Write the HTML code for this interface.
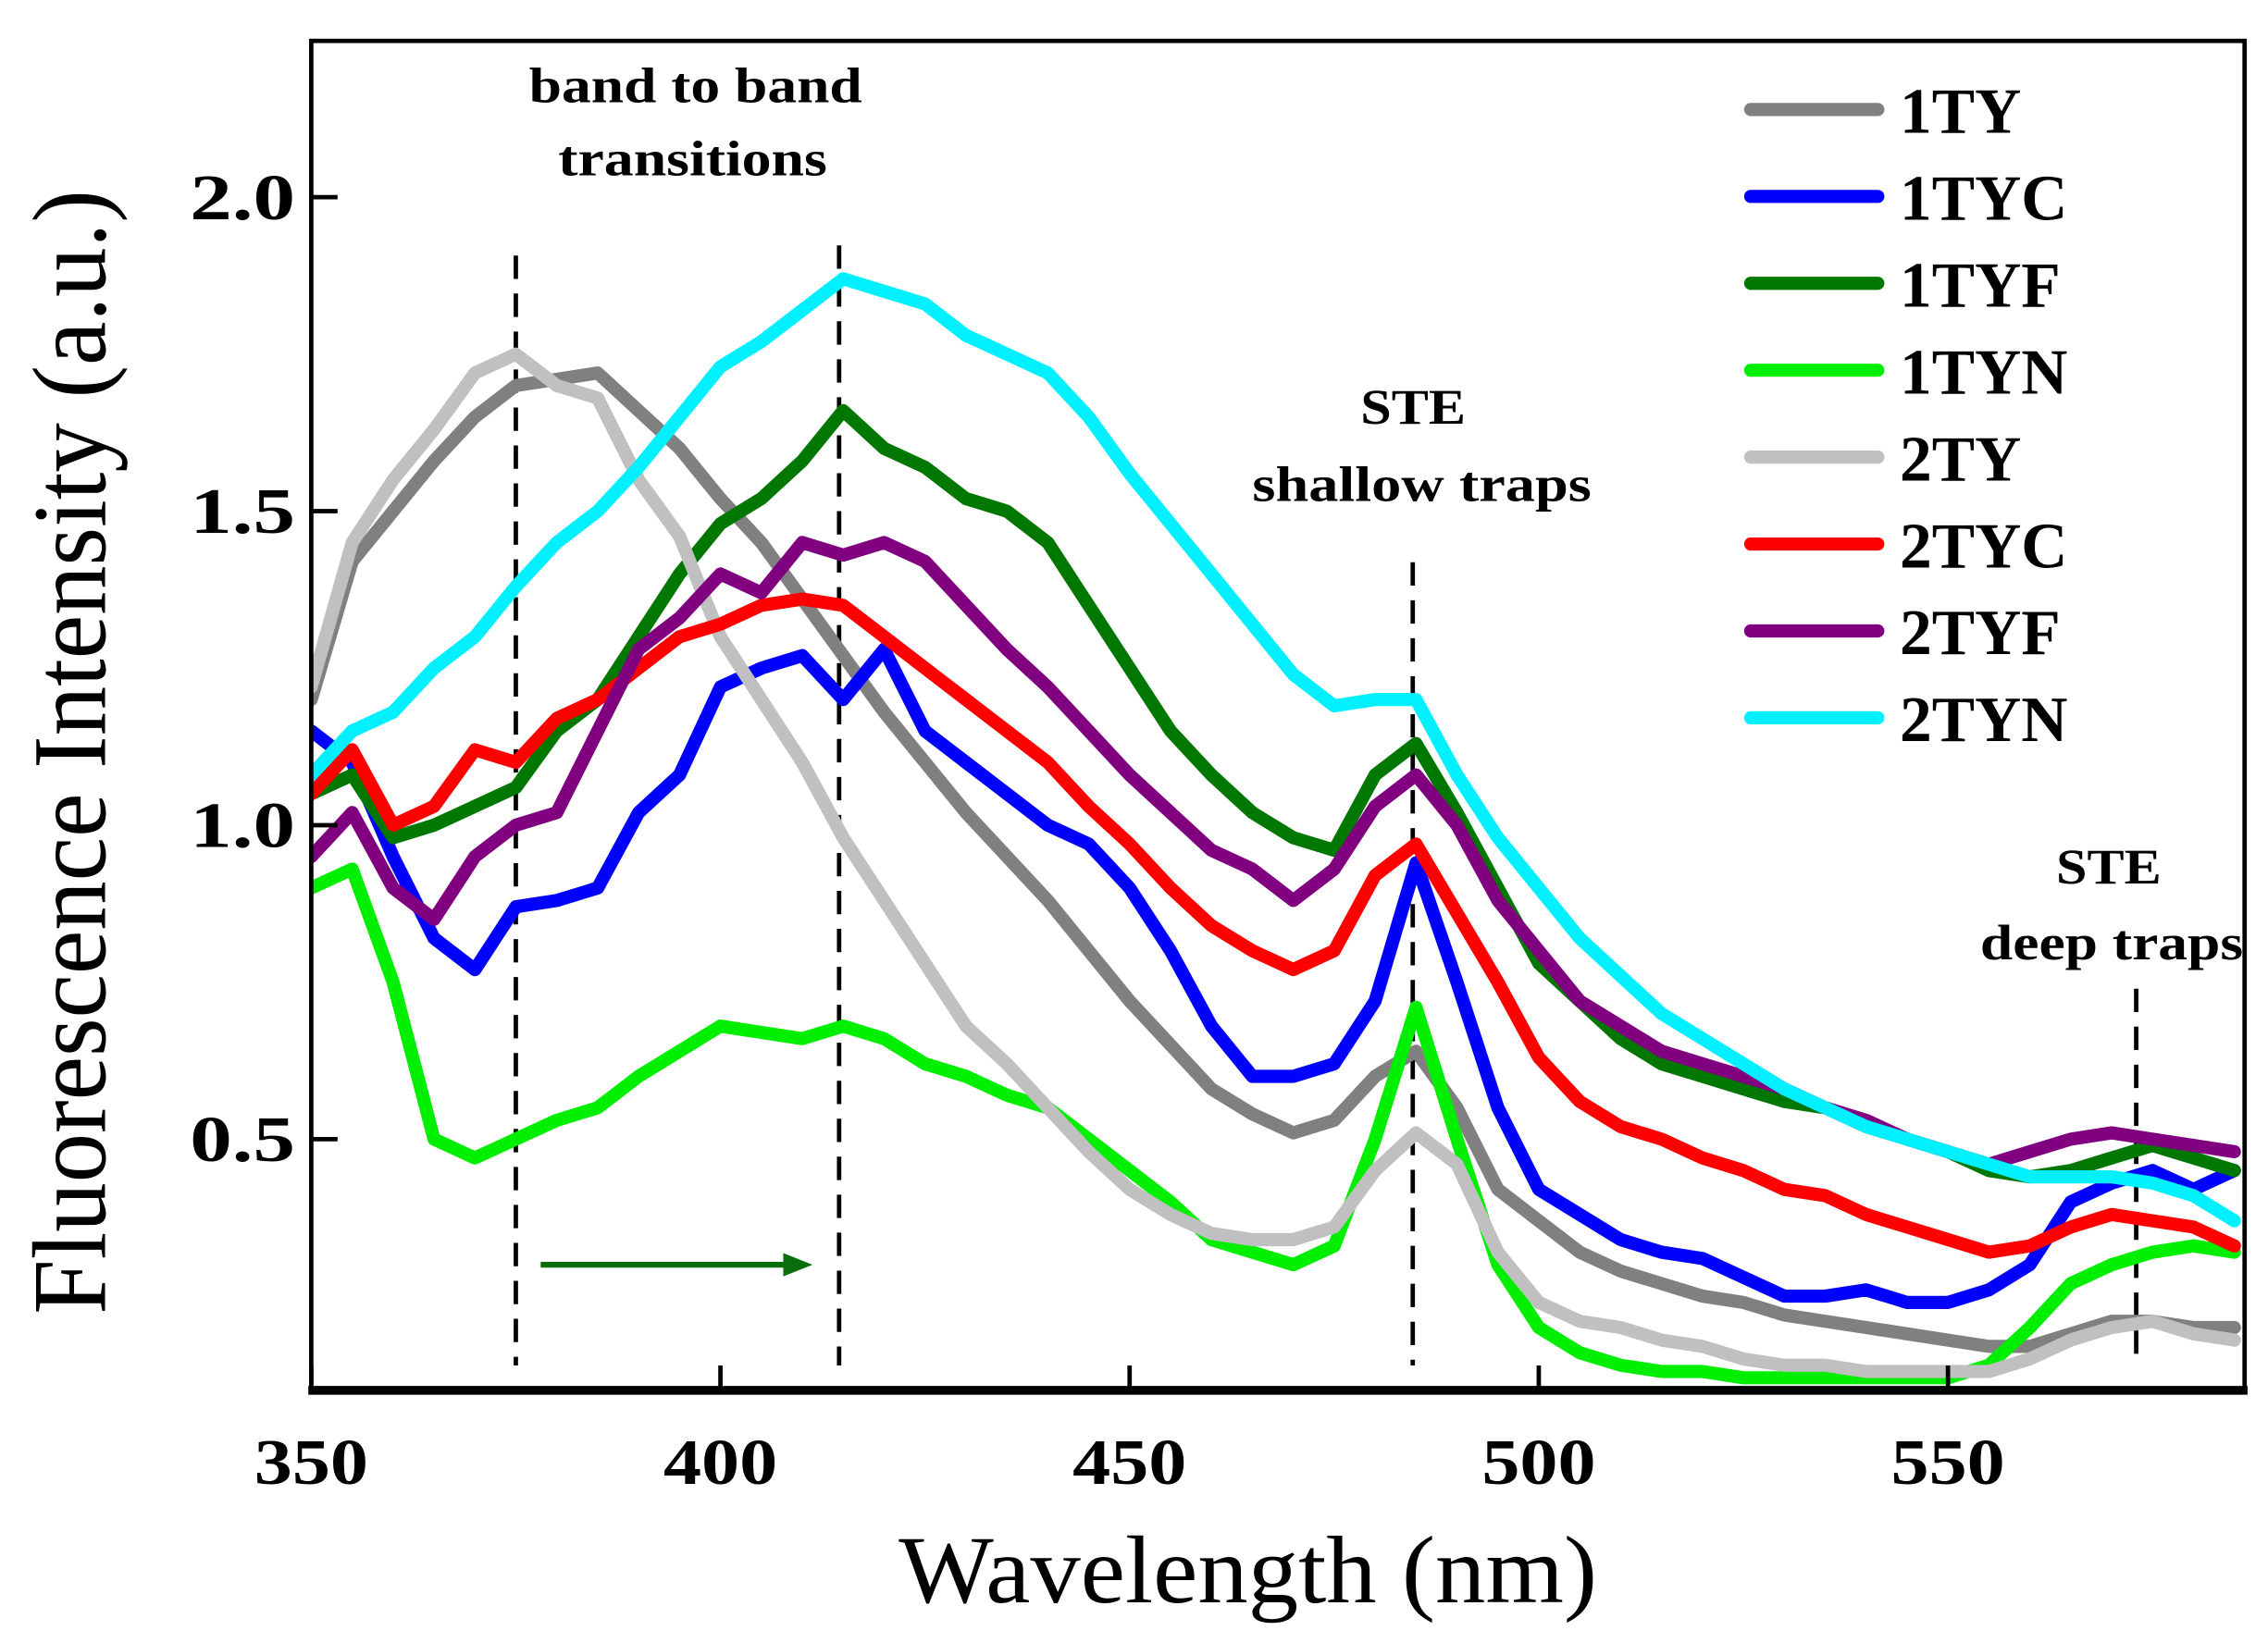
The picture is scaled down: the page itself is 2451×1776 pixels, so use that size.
<!DOCTYPE html>
<html><head><meta charset="utf-8"><style>
html,body{margin:0;padding:0;background:#fff;}
svg{display:block;}
text{font-family:"Liberation Serif",serif;}
</style></head><body>
<svg id="chart" width="2451" height="1776" viewBox="0 0 1552 1125" preserveAspectRatio="none" xmlns="http://www.w3.org/2000/svg">
<g id="plot"></g>
</svg>
<script>
const wavelengths = [350,355,360,365,370,375,380,385,390,395,400,405,410,415,420,425,430,435,440,445,450,455,460,465,470,475,480,485,490,495,500,505,510,515,520,525,530,535,540,545,550,555,560,565,570,575,580,585];
const s1TY  = [1.2,1.42,1.5,1.58,1.65,1.70,1.71,1.72,1.66,1.60,1.52,1.45,1.36,1.27,1.18,1.1,1.02,0.95,0.88,0.8,0.72,0.65,0.58,0.54,0.51,0.53,0.6,0.64,0.55,0.42,0.37,0.32,0.29,0.27,0.25,0.24,0.22,0.21,0.2,0.19,0.18,0.17,0.17,0.19,0.21,0.21,0.2,0.2];
const s1TYC = [1.15,1.1,0.95,0.82,0.77,0.87,0.88,0.9,1.02,1.08,1.22,1.25,1.27,1.2,1.28,1.15,1.1,1.05,1.0,0.97,0.9,0.8,0.68,0.6,0.6,0.62,0.72,0.94,0.75,0.55,0.42,0.38,0.34,0.32,0.31,0.28,0.25,0.25,0.26,0.24,0.24,0.26,0.3,0.4,0.43,0.45,0.42,0.45];
const s1TYF = [1.05,1.08,0.98,1.0,1.03,1.06,1.15,1.2,1.3,1.4,1.48,1.52,1.58,1.66,1.6,1.57,1.52,1.5,1.45,1.35,1.25,1.15,1.08,1.02,0.98,0.96,1.08,1.13,1.02,0.9,0.78,0.72,0.66,0.62,0.6,0.58,0.56,0.55,0.52,0.5,0.48,0.45,0.44,0.45,0.47,0.49,0.47,0.45];
const s1TYN = [0.9,0.93,0.75,0.5,0.47,0.5,0.53,0.55,0.6,0.64,0.68,0.67,0.66,0.68,0.66,0.62,0.6,0.57,0.55,0.5,0.45,0.4,0.34,0.32,0.3,0.33,0.5,0.71,0.5,0.3,0.2,0.16,0.14,0.13,0.13,0.12,0.12,0.12,0.12,0.12,0.12,0.14,0.2,0.27,0.3,0.32,0.33,0.32];
const s2TY  = [1.22,1.45,1.55,1.63,1.72,1.75,1.7,1.68,1.55,1.46,1.3,1.2,1.1,0.98,0.88,0.78,0.68,0.62,0.55,0.48,0.42,0.38,0.35,0.34,0.34,0.36,0.45,0.51,0.46,0.32,0.24,0.21,0.2,0.18,0.17,0.15,0.14,0.14,0.13,0.13,0.13,0.13,0.15,0.18,0.2,0.21,0.19,0.18];
const s2TYC = [1.05,1.12,1.0,1.03,1.12,1.1,1.17,1.2,1.25,1.3,1.32,1.35,1.36,1.35,1.3,1.25,1.2,1.15,1.1,1.03,0.97,0.9,0.84,0.8,0.77,0.8,0.92,0.97,0.86,0.75,0.63,0.56,0.52,0.5,0.47,0.45,0.42,0.41,0.38,0.36,0.34,0.32,0.33,0.36,0.38,0.37,0.36,0.33];
const s2TYF = [0.95,1.02,0.9,0.85,0.95,1.0,1.02,1.15,1.28,1.33,1.4,1.37,1.45,1.43,1.45,1.42,1.35,1.28,1.22,1.15,1.08,1.02,0.96,0.93,0.88,0.93,1.03,1.08,1.0,0.88,0.8,0.72,0.68,0.64,0.62,0.6,0.58,0.55,0.53,0.5,0.48,0.46,0.48,0.5,0.51,0.5,0.49,0.48];
const s2TYN = [1.08,1.15,1.18,1.25,1.3,1.38,1.45,1.5,1.57,1.65,1.73,1.77,1.82,1.87,1.85,1.83,1.78,1.75,1.72,1.65,1.56,1.48,1.4,1.32,1.24,1.19,1.2,1.2,1.08,0.98,0.9,0.82,0.76,0.7,0.66,0.62,0.58,0.55,0.52,0.5,0.48,0.46,0.44,0.44,0.44,0.43,0.41,0.37];
const seriesNames = ["1TY","1TYC","1TYF","1TYN","2TY","2TYC","2TYF","2TYN"];
const xTicks = [350,400,450,500,550];
const yTicks = [0.5,1.0,1.5,2.0];
const yTickLabels = ["0.5","1.0","1.5","2.0"];
const markerLines = [375,414.5,484.6,573];

const allSeries=[s1TY,s1TYC,s1TYF,s1TYN,s2TY,s2TYC,s2TYF,s2TYN];
const colors=["#808080","#0000ff","#007700","#00ee00","#c0c0c0","#ff0000","#800080","#00f0ff"];
const L=213,R=1536,T=28,B=952;
const xs=v=>L+(v-350)*5.6;
const ys=v=>135+(2.0-v)*430;
const NS="http://www.w3.org/2000/svg";
const g=document.getElementById('plot');
function mk(tag,attrs,parent){const e=document.createElementNS(NS,tag);for(const k in attrs)e.setAttribute(k,attrs[k]);(parent||g).appendChild(e);return e;}
const clip=mk('clipPath',{id:'pc'});mk('rect',{x:L,y:T,width:R-L,height:B-T},clip);
markerLines.forEach((m,i)=>{const tops=[175,168,385,677];const e=mk('line',{x1:xs(m),x2:xs(m),y1:tops[i],y2:935,stroke:'#000','stroke-width':3,'stroke-dasharray':'16,10'});

});
const sg=mk('g',{'clip-path':'url(#pc)'});
allSeries.forEach((s,i)=>{const pts=s.map((v,j)=>xs(wavelengths[j]).toFixed(1)+','+ys(v).toFixed(1)).join(' ');
const p=mk('polyline',{points:pts,fill:'none',stroke:colors[i],'stroke-width':9,'stroke-linejoin':'round','stroke-linecap':'round'},sg);

});
mk('rect',{x:L,y:T,width:R-L,height:B-T,fill:'none',stroke:'#000','stroke-width':3});
mk('line',{x1:L-2,x2:R+2,y1:B,y2:B,stroke:'#000','stroke-width':6});
xTicks.forEach(t=>{mk('line',{x1:xs(t),x2:xs(t),y1:B,y2:B-17,stroke:'#000','stroke-width':3});
const tx=mk('text',{x:xs(t),y:1016,'text-anchor':'middle','font-size':44,'font-weight':'bold','textLength':78,'lengthAdjust':'spacingAndGlyphs'});tx.textContent=t;

});
yTicks.forEach((t,i)=>{mk('line',{x1:L,x2:L+18,y1:ys(t),y2:ys(t),stroke:'#000','stroke-width':3});
const tx=mk('text',{x:166,y:ys(t)+15,'text-anchor':'middle','font-size':44,'font-weight':'bold','textLength':72,'lengthAdjust':'spacingAndGlyphs'});tx.textContent=yTickLabels[i];

});
let t=mk('text',{x:854,y:1097,'text-anchor':'middle','font-size':66,'textLength':478,'lengthAdjust':'spacingAndGlyphs'});t.textContent='Wavelength (nm)';


t=mk('text',{x:0,y:0,'text-anchor':'middle','font-size':72,'textLength':770,'lengthAdjust':'spacingAndGlyphs',transform:'translate(72,515) rotate(-90)'});t.textContent='Fluorescence Intensity (a.u.)';


[["band to band",476,70,228],["transitions",474,120,184],["STE",967,290,72],["shallow traps",973,343,232],["STE",1443,605,72],["deep traps",1445,657,180]].forEach(a=>{
const e=mk('text',{x:a[1],y:a[2],'text-anchor':'middle','font-size':34,'font-weight':'bold','textLength':a[3],'lengthAdjust':'spacingAndGlyphs'});e.textContent=a[0];

});
const ar=mk('g',{});


mk('line',{x1:370,x2:540,y1:866,y2:866,stroke:'#0a6e0a','stroke-width':4},ar);
mk('polygon',{points:'556,866 536,858 536,874',fill:'#0a6e0a'},ar);
seriesNames.forEach((n,i)=>{const y=75+i*59.5;
const lg=mk('g',{});


mk('line',{x1:1198,x2:1285,y1:y,y2:y,stroke:colors[i],'stroke-width':9,'stroke-linecap':'round'},lg);
const e=mk('text',{x:1300,y:y+16,'font-size':44,'font-weight':'bold'},lg);e.textContent=n;});
</script>
</body></html>
